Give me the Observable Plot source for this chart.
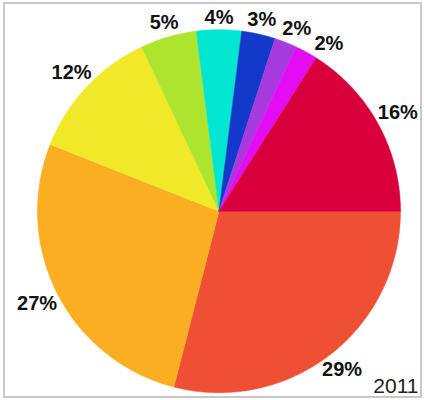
<!DOCTYPE html>
<html>
<head>
<meta charset="utf-8">
<script src="https://cdn.jsdelivr.net/npm/d3@7"></script>
<script src="https://cdn.jsdelivr.net/npm/@observablehq/plot@0.6"></script>
<style>
  html, body { margin: 0; padding: 0; background: #fff; }
  #chart svg { display: block; }
</style>
</head>
<body>
<div id="chart"></div>
<script>
// Data (clockwise from 3 o'clock)
const values = [29, 27, 12, 5, 4, 3, 2, 2, 16];
const labels = ["29%", "27%", "12%", "5%", "4%", "3%", "2%", "2%", "16%"];
const colors = ["#EF5034", "#FAAE22", "#F1E82A", "#ADE52E", "#00E6D0", "#1239CA", "#A63ADF", "#E30CF2", "#D8003C"];
const caption = "2011";

const W = 424, H = 400;
const cx = 218.5, cy = 210.7, R = 181.5;
const FS = 20;

const total = d3.sum(values);
let acc = 0;
const slices = values.map((v, i) => {
  const a0 = acc / total * 2 * Math.PI;
  acc += v;
  const a1 = acc / total * 2 * Math.PI;
  return {i, v, label: labels[i], color: colors[i], a0, a1, mid: (a0 + a1) / 2};
});

// polygon points for each slice (y up, clockwise = negative angle)
const pts = [];
for (const s of slices) {
  pts.push({i: s.i, x: 0, y: 0});
  const n = Math.max(2, Math.ceil((s.a1 - s.a0) / (Math.PI / 360)));
  for (let k = 0; k <= n; k++) {
    const a = s.a0 + (s.a1 - s.a0) * k / n;
    pts.push({i: s.i, x: R * Math.cos(a), y: -R * Math.sin(a)});
  }
}

// label placement outside the pie, nudged clockwise to avoid overlaps
const textW = t => [...t].reduce((w, ch) => w + (ch === "%" ? 0.889 : 0.556), 0) * FS;
const place = a => {
  const c = Math.cos(a);
  const rl = R + 12 + 12 * Math.abs(c);
  return {x: rl * c, y: -rl * Math.sin(a)};
};
const labelPts = [];
for (const s of slices) {
  let a = s.mid;
  const w = textW(s.label);
  let p = place(a);
  for (let iter = 0; iter < 60; iter++) {
    const clash = labelPts.some(q => Math.abs(q.x - p.x) < (q.w + w) / 2 + 5 && Math.abs(q.y - p.y) < 15);
    if (!clash) break;
    a += Math.PI / 360;
    p = place(a);
  }
  labelPts.push({label: s.label, w, x: p.x, y: p.y});
}

const chart = Plot.plot({
  width: W,
  height: H,
  margin: 0,
  x: {domain: [-cx, W - cx], axis: null},
  y: {domain: [cy - H, cy], axis: null},
  style: {background: "#fff"},
  marks: [
    Plot.frame({stroke: "#c8c8c8", strokeWidth: 2, insetTop: 2.5, insetLeft: 3.5, insetRight: 3.5, insetBottom: 3.5}),
    Plot.line(pts, {
      x: "x", y: "y", z: "i",
      curve: "linear-closed",
      fill: d => colors[d.i],
      stroke: d => colors[d.i],
      strokeWidth: 0.5
    }),
    Plot.text(labelPts, {
      x: "x", y: "y", text: "label",
      fontSize: FS, fontWeight: "bold", fill: "#111",
      fontFamily: "Liberation Sans, Arial, sans-serif",
      textAnchor: "middle", lineAnchor: "middle"
    }),
    Plot.text([caption], {
      frameAnchor: "bottom-right", text: d => d,
      dx: -6, dy: -8, lineAnchor: "bottom", textAnchor: "end",
      fontSize: 21, fill: "#222",
      fontFamily: "Liberation Sans, Arial, sans-serif"
    })
  ]
});
document.getElementById("chart").append(chart);
</script>
</body>
</html>
